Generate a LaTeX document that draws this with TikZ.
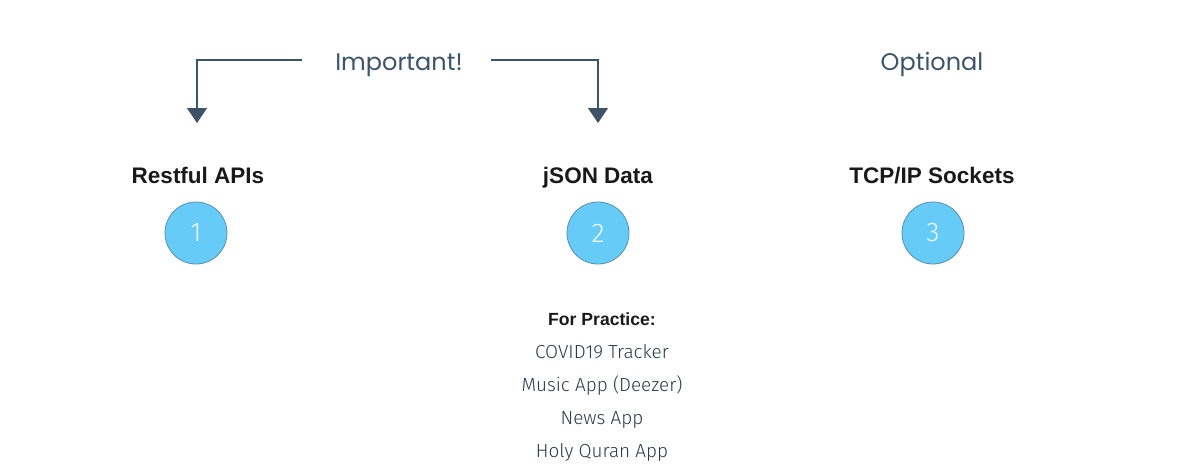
\documentclass[tikz,border=0pt]{standalone}
\usepackage{fontspec}
\setmainfont{Liberation Sans}
\newfontfamily\titlefont{Poppins}
\newfontfamily\lightfont{Fira Sans Light}
\usetikzlibrary{arrows.meta}
\definecolor{slate}{HTML}{3D5468}
\definecolor{txtdark}{HTML}{2B3A47}
\definecolor{circfill}{HTML}{66CCF7}
\definecolor{circline}{HTML}{5A8FAA}
\begin{document}
\begin{tikzpicture}[x=1pt,y=-1pt,
  tag/.style={font=\titlefont\fontsize{24}{28}\selectfont, text=slate, inner sep=0pt, anchor=base},
  head/.style={font=\bfseries\fontsize{22.5}{26}\selectfont, text=black!90, inner sep=0pt, anchor=base},
  num/.style={circle, minimum size=62pt, fill=circfill, draw=circline, line width=0.8pt, text=white!92!circfill, font=\lightfont\fontsize{27}{30}\selectfont, inner sep=0pt},
  item/.style={font=\lightfont\fontsize{18.9}{22}\selectfont, text=txtdark, inner sep=0pt, anchor=base},
  itemhead/.style={font=\bfseries\fontsize{17.6}{20}\selectfont, text=black!90, inner sep=0pt, anchor=base},
  conn/.style={draw=slate, line width=1.1pt, -{Triangle[width=20pt,length=15pt]}}
]
\useasboundingbox (0,0) rectangle (1202,474);
\node[tag] (imp) at (399,70) {Important!};
\node[tag] (opt) at (932,70) {Optional};
\coordinate (lstart) at (302,60);
\coordinate (rstart) at (491,60);
\coordinate (lend) at (197,123);
\coordinate (rend) at (598,123);
\draw[conn] (lstart) -| (lend);
\draw[conn] (rstart) -| (rend);
\node[head] (h1) at (198,183) {Restful APIs};
\node[head] (h2) at (598,183) {jSON Data};
\node[head] (h3) at (932,183) {TCP/IP Sockets};
\node[num] (c1) at (196,233) {1};
\node[num] (c2) at (598,233) {2};
\node[num] (c3) at (933,233) {3};
\node[itemhead] (ph) at (602,325) {For Practice:};
\node[item] (i1) at (602,358) {COVID19 Tracker};
\node[item] (i2) at (602,391) {Music App (Deezer)};
\node[item] (i3) at (602,424) {News App};
\node[item] (i4) at (602,457) {Holy Quran App};
\end{tikzpicture}
\end{document}
